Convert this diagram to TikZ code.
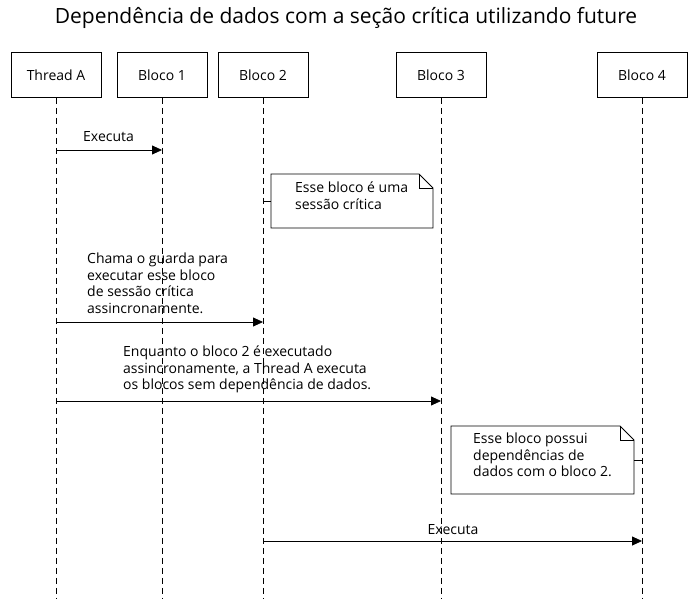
\documentclass[tikz,border=0pt]{standalone}
\usepackage{fontspec}
\setmainfont{Open Sans}
\usetikzlibrary{arrows.meta}
\begin{document}
\begin{tikzpicture}[x=1pt,y=-1pt,
  hdr/.style={draw,thick,minimum width=90pt,minimum height=45pt,inner sep=0pt,font=\fontsize{14}{16}\selectfont},
  life/.style={dashed,thick,dash pattern=on 6pt off 4pt},
  msg/.style={thick,-{Triangle[length=10pt,width=9pt]}},
  lbl/.style={font=\fontsize{14}{16.5}\selectfont,align=left,inner sep=0pt}]
\useasboundingbox (0,0) rectangle (693,599);
\node[font=\fontsize{21}{23}\selectfont] (title) at (346,18) {Dependência de dados com a seção crítica utilizando future};
\foreach \n/\x/\t in {a/56/Thread A,b1/162/Bloco 1,b2/263/Bloco 2,b3/441/Bloco 3,b4/642/Bloco 4}{
  \node[hdr] (\n) at (\x,75) {\t};
  \coordinate (\n e) at (\x,599);
  \draw[life] (\n.south) -- (\n e);
  \coordinate (\n1) at (\x,150);
  \coordinate (\n2) at (\x,322);
  \coordinate (\n3) at (\x,401);
  \coordinate (\n4) at (\x,541);
  \coordinate (\n5) at (\x,201);
  \coordinate (\n6) at (\x,460);
}
\draw[msg] (a1) -- (b11);
\node[lbl,anchor=base west] (l1) at (83,142) {Executa};
% note 1
\draw[thick,fill=white] (271,174) -- (419,174) -- (433,188) -- (433,228) -- (271,228) -- cycle;
\draw[thick] (419,174) -- (419,188) -- (433,188);
\node[lbl,anchor=north west] (n1) at (295,182) {Esse bloco é uma\\sessão crítica};
\coordinate (n1w) at (271,201);
\draw[thick] (b25) -- (n1w);
\draw[msg] (a2) -- (b22);
\node[lbl,anchor=north west] (l2) at (87,253) {Chama o guarda para\\executar esse bloco\\de sessão crítica\\assincronamente.};
\draw[msg] (a3) -- (b33);
\node[lbl,anchor=north west] (l3) at (123,346) {Enquanto o bloco 2 é executado\\assincronamente, a Thread A executa\\os blocos sem dependência de dados.};
% note 2
\draw[thick,fill=white] (451,426) -- (620,426) -- (634,440) -- (634,494) -- (451,494) -- cycle;
\draw[thick] (620,426) -- (620,440) -- (634,440);
\node[lbl,anchor=north west] (n2) at (473,433) {Esse bloco possui\\dependências de\\dados com o bloco 2.};
\coordinate (n2e) at (634,460);
\draw[thick] (n2e) -- (b46);
\draw[msg] (b24) -- (b44);
\node[lbl,anchor=base] (l4) at (453,534) {Executa};
\end{tikzpicture}
\end{document}
